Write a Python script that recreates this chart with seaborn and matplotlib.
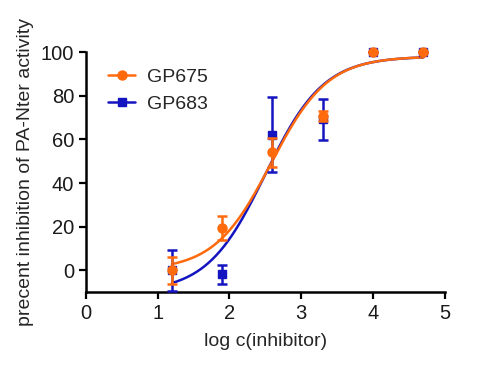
import numpy as np
import pandas as pd
import seaborn as sns
import matplotlib.pyplot as plt
from matplotlib.lines import Line2D

# log concentrations and mean inhibition (%) with error
log_c = [1.2, 1.9, 2.6, 3.3, 4.0, 4.7]
gp675 = [0.0, 19.3, 54.0, 70.6, 100.0, 100.0]
gp675_err = [6.2, 5.5, 6.5, 2.3, 0.0, 0.0]
gp683 = [0.0, -1.8, 62.2, 69.2, 100.0, 100.0]
gp683_err = [9.3, 4.2, 17.0, 9.4, 0.0, 0.0]

# 4PL fit parameters: bottom, top, logEC50, hill
fit_675 = [0.0, 98.0, 2.58, 1.1]
fit_683 = [-10.0, 98.0, 2.50, 1.07]

orange = '#FF6A0D'
blue = '#1414C0'


def four_pl(x, p):
    b, t, e, h = p
    return b + (t - b) / (1 + 10 ** ((e - x) * h))


xs = np.linspace(min(log_c), max(log_c), 200)
curves = pd.concat([
    pd.DataFrame({'x': xs, 'y': four_pl(xs, fit_683), 'cmpd': 'GP683'}),
    pd.DataFrame({'x': xs, 'y': four_pl(xs, fit_675), 'cmpd': 'GP675'}),
])

sns.set_style('ticks')
plt.rcParams['font.family'] = ['Liberation Sans', 'DejaVu Sans']

fig = plt.figure(figsize=(5.02, 3.69), dpi=100)
ax = fig.add_axes([0.171, 0.208, 0.715, 0.651])

sns.lineplot(data=curves, x='x', y='y', hue='cmpd', palette={'GP683': blue, 'GP675': orange},
             linewidth=1.8, legend=False, ax=ax)

for data, err, m, c, ms, z in [(gp683, gp683_err, 's', blue, 6, 3),
                               (gp675, gp675_err, 'o', orange, 6.5, 4)]:
    eb = ax.errorbar(log_c, data, yerr=err, fmt=m, color=c, ms=ms, elinewidth=1.8,
                     capsize=3.5, capthick=1.8, zorder=z)
    for art in eb.get_children():
        art.set_clip_on(False)

ax.set_xlim(0, 5)
ax.set_ylim(-10, 100)
ax.set_xticks([0, 1, 2, 3, 4, 5])
ax.set_yticks([0, 20, 40, 60, 80, 100])
ax.set_xlabel('log c(inhibitor)', fontsize=14, labelpad=7)
ax.set_ylabel('precent inhibition of PA-Nter activity', fontsize=14, labelpad=5)
ax.tick_params(labelsize=14.5, width=1.6, length=5, color='black', labelcolor='#1a1a1a')
for s in ['left', 'bottom']:
    ax.spines[s].set_linewidth(1.8)
    ax.spines[s].set_color('black')
sns.despine(ax=ax)

handles = [Line2D([], [], color=orange, marker='o', ms=6.5, lw=1.8),
           Line2D([], [], color=blue, marker='s', ms=6, lw=1.8)]
ax.legend(handles, ['GP675', 'GP683'], loc='upper left', bbox_to_anchor=(0.04, 0.965),
          borderaxespad=0, frameon=False, fontsize=14, handlelength=1.4,
          handletextpad=0.6, labelspacing=0.5)

fig.savefig('out.png', dpi=100)
